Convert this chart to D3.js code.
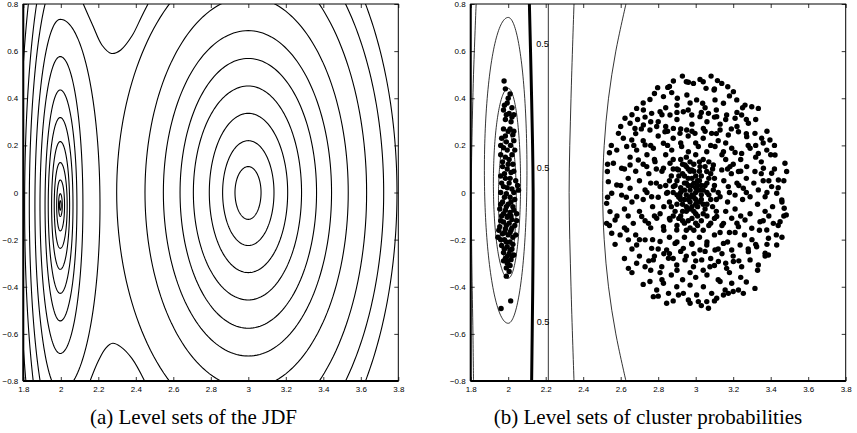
<!DOCTYPE html>
<html>
<head>
<meta charset="utf-8">
<script src="https://cdn.jsdelivr.net/npm/d3@7"></script>
<style>
  body { margin: 0; background: #fff; }
  svg { display: block; }
  .tick text { font-family: "Liberation Sans", Arial, sans-serif; font-size: 8px; fill: #000; }
  .caption { font-family: "Liberation Serif", "Times New Roman", serif; font-size: 21px; fill: #000; }
</style>
</head>
<body>
<div id="chart"></div>
<script>
// axes
const xTicks = [1.8, 2, 2.2, 2.4, 2.6, 2.8, 3, 3.2, 3.4, 3.6, 3.8];
const yTicks = [-0.8, -0.6, -0.4, -0.2, 0, 0.2, 0.4, 0.6, 0.8];
const captions = ["(a) Level sets of the JDF", "(b) Level sets of cluster probabilities"];

// (a) closed level sets: [rxLeft, rxRight, ryTop, ryBottom]
const jdfCentreA = [1.997, -0.055];
const jdfRingsA = [
  [0.004, 0.005, 0.02, 0.02],
  [0.009, 0.011, 0.05, 0.047],
  [0.019, 0.023, 0.108, 0.108],
  [0.032, 0.037, 0.182, 0.182],
  [0.046, 0.05, 0.271, 0.271],
  [0.064, 0.068, 0.373, 0.373],
  [0.081, 0.089, 0.49, 0.49],
  [0.108, 0.121, 0.632, 0.628],
  [0.135, 0.212, 0.79, 0.79]
];
const jdfCentreB = [3.0, 0.0];
const jdfRingsB = [
  [0.071, 0.068, 0.11, 0.114],
  [0.137, 0.137, 0.22, 0.225],
  [0.208, 0.21, 0.336, 0.34],
  [0.293, 0.284, 0.452, 0.456],
  [0.364, 0.364, 0.569, 0.576],
  [0.453, 0.444, 0.687, 0.694],
  [0.551, 0.533, 0.83, 0.83],
  [0.702, 0.631, 1.0, 1.0]
];
// outer level sets that merge across the saddle: left halves round A, right halves round B
const jdfOpenA = [[0.165, 0.981, 0.981], [0.19, 1.143, 1.143], [0.22, 1.347, 1.347]];
const jdfOpenB = [[0.722, 1.15, 1.15], [0.793, 1.3, 1.3]];
const saddleTop = [[2.12, 0.8], [2.17, 0.71], [2.22, 0.625], [2.27, 0.59], [2.32, 0.605], [2.38, 0.665], [2.43, 0.745], [2.465, 0.8]];
const saddleBottom = [[2.156, -0.8], [2.2, -0.715], [2.24, -0.66], [2.277, -0.64], [2.32, -0.655], [2.38, -0.705], [2.447, -0.8]];

// (b) probability level sets
const probCentre = [2.0, 0.0];
const probRings = [
  // [cy, rxLeft, rxRight, ryTop, ryBottom]
  [0.094, 0.127, 0.1, 0.649, 0.649],
  [0.039, 0.079, 0.066, 0.403, 0.403],
  [-0.023, 0.052, 0.043, 0.277, 0.277]
];
const probLineEdge = [[1.829, 0.8], [1.815, 0.5], [1.806, 0.2], [1.803, 0], [1.806, -0.3], [1.812, -0.6], [1.815, -0.8]];
const probLineHalf = [[2.113, 0.8], [2.122, 0.5], [2.13, 0.2], [2.133, 0], [2.132, -0.3], [2.128, -0.6], [2.125, -0.8]];
const probLineStraight = [[2.214, 0.8], [2.214, -0.8]];
const probLineMid = [[2.351, 0.8], [2.335, 0.4], [2.325, 0], [2.335, -0.4], [2.351, -0.8]];
const probLineArc = [[2.628, 0.8], [2.574, 0.6], [2.535, 0.4], [2.512, 0.2], [2.504, 0], [2.512, -0.2], [2.535, -0.4], [2.574, -0.6], [2.628, -0.8]];
const halfLabels = [[2.183, 0.63], [2.185, 0.104], [2.185, -0.548]];

// samples, cluster near x=2
const pointsA = [
  [1.978,0.473],[1.985,0.44],[2.01,0.418],[1.995,0.38],[2.02,0.36],[1.975,0.35],[2.005,0.335],[2.03,0.33],
  [1.985,0.31],[2.015,0.3],[1.975,0.27],[2.0,0.26],[2.025,0.245],[1.965,0.23],[1.99,0.215],[2.012,0.2],
  [1.975,0.19],[2.035,0.18],[1.96,0.16],[1.985,0.15],[2.005,0.14],[2.025,0.12],[1.97,0.11],[1.995,0.1],
  [2.015,0.085],[1.96,0.07],[1.985,0.06],[2.04,0.05],[2.005,0.04],[1.975,0.025],[2.02,0.015],[2.055,0.01],
  [1.96,0.0],[1.99,-0.005],[2.01,-0.02],[2.035,-0.03],[1.97,-0.04],[2.0,-0.05],[2.025,-0.06],[1.955,-0.07],
  [1.985,-0.075],[2.01,-0.085],[2.045,-0.09],[1.965,-0.1],[1.995,-0.105],[2.02,-0.115],[1.975,-0.125],[2.005,-0.13],
  [2.035,-0.14],[1.955,-0.145],[1.985,-0.155],[2.015,-0.16],[1.97,-0.175],[2.0,-0.18],[2.025,-0.19],[1.945,-0.19],
  [1.98,-0.2],[2.01,-0.21],[1.965,-0.225],[1.995,-0.23],[2.02,-0.24],[1.975,-0.255],[2.005,-0.26],[2.03,-0.265],
  [1.985,-0.28],[2.015,-0.285],[1.995,-0.3],[2.01,-0.31],[1.99,-0.355],[2.013,-0.46],[1.962,-0.492],
  [2.0,0.4],[1.98,0.37],[2.02,0.32],[1.99,0.33],[2.01,0.27],[1.985,0.24],[2.03,0.22],[1.995,0.18],
  [2.02,0.16],[1.97,0.13],[2.0,0.12],[2.03,0.09],[1.98,0.08],[2.01,0.06],[1.965,0.04],[1.995,0.02],
  [2.03,0.0],[1.98,-0.02],[2.015,-0.04],[1.96,-0.05],[1.99,-0.06],[2.03,-0.075],[1.975,-0.09],[2.0,-0.1],
  [2.015,-0.1],[1.96,-0.12],[1.99,-0.14],[2.02,-0.15],[1.98,-0.17],[2.01,-0.17],[2.04,-0.18],[1.96,-0.2],
  [1.99,-0.21],[2.025,-0.22],[1.98,-0.24],[2.01,-0.245],[1.995,-0.27],[2.02,-0.27],[1.975,-0.29],[2.0,-0.29],
  [1.99,-0.32],[2.005,-0.335],[2.03,0.26],[1.96,0.2],[2.045,-0.12],[1.95,-0.16],[2.05,0.03]
];
// samples, cluster near x=3
const pointsB = [
  [2.929,0.494],[3.082,0.494],[3.023,0.48],[2.881,0.473],[2.961,0.468],[2.988,0.463],[3.116,0.475],[3.139,0.463],
  [3.171,0.449],[2.797,0.445],[2.851,0.446],[2.872,0.424],[3.055,0.442],[3.098,0.435],[3.201,0.428],[2.953,0.414],
  [2.756,0.395],[2.828,0.407],[2.902,0.4],[3.005,0.393],[3.037,0.379],[3.103,0.393],[3.148,0.379],[3.219,0.393],
  [3.263,0.371],[3.299,0.364],[3.334,0.357],[2.685,0.357],[2.721,0.35],[2.765,0.336],[2.81,0.343],[2.863,0.329],
  [2.934,0.343],[2.979,0.329],[3.023,0.322],[3.068,0.336],[3.112,0.322],[3.165,0.329],[3.21,0.315],[3.245,0.329],
  [3.281,0.294],[2.623,0.315],[2.65,0.294],[2.676,0.272],[2.721,0.287],[2.756,0.265],[2.792,0.28],[2.836,0.258],
  [2.881,0.272],[2.916,0.251],[2.952,0.265],[2.996,0.251],[3.041,0.272],[3.085,0.251],[3.13,0.265],[3.174,0.244],
  [3.228,0.258],[3.272,0.237],[3.316,0.251],[3.352,0.23],[3.396,0.223],[2.588,0.251],[2.614,0.23],[2.659,0.223],
  [2.579,0.18],[2.632,0.195],[2.685,0.18],[2.73,0.202],[2.774,0.188],[2.828,0.209],[2.872,0.18],[2.925,0.195],
  [2.961,0.173],[3.014,0.195],[3.059,0.173],[3.103,0.195],[3.148,0.173],[3.192,0.188],[3.245,0.166],[3.29,0.188],
  [3.334,0.166],[3.379,0.18],[3.423,0.159],[3.476,0.124],[3.485,0.089],[2.54,0.169],[2.561,0.124],[2.529,0.089],
  [2.605,0.103],[2.65,0.117],[2.694,0.138],[2.739,0.11],[2.783,0.131],[2.828,0.103],[2.863,0.124],[2.908,0.096],
  [2.943,0.117],[2.979,0.096],[3.023,0.11],[3.059,0.089],[3.094,0.117],[3.139,0.096],[3.183,0.11],[3.228,0.089],
  [3.272,0.11],[3.316,0.089],[3.361,0.103],[3.405,0.082],[3.441,0.053],[2.534,0.046],[2.579,0.032],[2.552,-0.003],
  [2.605,-0.011],[2.65,0.018],[2.685,-0.018],[2.73,0.011],[2.765,-0.018],[2.81,0.025],[2.845,-0.003],[2.881,0.025],
  [2.916,-0.018],[3.094,0.011],[3.13,-0.018],[3.174,0.025],[3.21,-0.011],[3.254,0.018],[3.29,-0.018],[3.334,0.011],
  [3.37,-0.018],[3.405,0.025],[3.432,-0.003],[3.459,-0.032],[3.472,-0.067],[3.483,-0.095],[3.45,-0.124],[2.525,-0.046],
  [2.543,-0.081],[2.57,-0.117],[2.525,-0.131],[2.552,-0.173],[2.597,-0.18],[2.632,-0.159],[2.667,-0.131],[2.712,-0.102],
  [2.748,-0.131],[2.792,-0.109],[2.828,-0.145],[2.863,-0.117],[2.899,-0.159],[3.112,-0.102],[3.148,-0.131],[3.192,-0.109],
  [3.228,-0.145],[3.263,-0.117],[3.299,-0.152],[3.343,-0.124],[3.379,-0.159],[3.414,-0.131],[3.388,-0.194],[3.432,-0.223],
  [2.641,-0.201],[2.685,-0.223],[2.73,-0.201],[2.765,-0.237],[2.81,-0.208],[2.845,-0.244],[2.89,-0.216],[2.934,-0.237],
  [2.979,-0.216],[3.023,-0.244],[3.059,-0.223],[3.103,-0.244],[3.148,-0.216],[3.192,-0.244],[3.237,-0.223],[3.281,-0.251],
  [3.325,-0.23],[3.37,-0.258],[2.641,-0.322],[2.685,-0.3],[2.73,-0.315],[2.774,-0.286],[2.819,-0.315],[2.855,-0.279],
  [2.899,-0.308],[2.943,-0.286],[2.988,-0.315],[3.032,-0.286],[3.076,-0.315],[3.121,-0.293],[3.165,-0.322],[3.201,-0.293],
  [3.245,-0.315],[3.29,-0.286],[3.334,-0.308],[3.388,-0.265],[2.756,-0.378],[2.792,-0.414],[2.828,-0.385],[2.855,-0.428],
  [2.899,-0.4],[2.934,-0.428],[2.97,-0.393],[3.005,-0.435],[3.041,-0.4],[3.085,-0.428],[3.13,-0.378],[3.157,-0.414],
  [3.192,-0.385],[3.228,-0.414],[3.254,-0.428],[3.316,-0.407],[2.774,-0.442],[2.845,-0.47],[2.908,-0.435],[2.961,-0.456],
  [3.014,-0.463],[3.059,-0.463],[3.068,-0.491],[3.112,-0.449],[3.148,-0.435],[3.174,-0.428],
  [2.9,0.05],[2.92,0.02],[2.94,0.07],[2.96,0.03],[2.98,0.06],[3.0,0.02],[3.02,0.05],[3.04,0.01],
  [3.06,0.04],[2.91,-0.02],[2.93,-0.05],[2.95,-0.01],[2.97,-0.04],[2.99,-0.02],[3.01,-0.06],[3.03,-0.03],
  [3.05,-0.07],[3.07,-0.01],[2.88,0.0],[2.86,-0.04],[2.89,-0.08],[2.92,-0.1],[2.95,-0.08],[2.98,-0.11],
  [3.0,-0.09],[3.03,-0.12],[3.06,-0.1],[3.09,-0.06],[3.1,0.03],[2.96,0.1],[2.99,0.12],[3.02,0.09],
  [2.93,0.12],[2.9,0.1],[3.05,0.11],[3.08,0.08],[2.87,0.07],[2.84,0.03],[2.83,-0.06],[2.86,-0.11],
  [2.9,-0.14],[2.94,-0.13],[2.97,-0.15],[3.01,-0.14],[3.04,-0.16],[3.08,-0.13],[3.11,-0.08],[3.12,0.0],
  [3.1,0.06],[2.95,0.15],[3.0,0.16],[3.04,0.14],[2.88,0.14],[2.98,-0.01],[2.96,-0.03],[3.0,0.0],
  [2.97,0.01],[3.01,0.03],[2.94,-0.03],[2.99,0.04],[2.92,0.0],[3.03,-0.01],[2.95,0.04],[2.98,-0.06],
  [3.02,-0.04],[2.9,-0.05],[3.06,0.0],
  [2.7,0.05],[2.72,-0.03],[2.75,0.08],[2.77,-0.06],[2.79,0.04],[2.8,-0.02],[2.82,0.09],[2.81,-0.09],
  [2.78,0.14],[2.76,-0.15],[2.74,0.16],[2.7,-0.08],[2.68,0.09],[2.66,-0.04],[2.64,0.06],[2.62,-0.07],
  [2.6,0.03],[2.58,-0.1],[3.15,0.05],[3.17,-0.04],[3.19,0.08],[3.21,-0.07],[3.23,0.03],[3.25,-0.03],
  [3.27,0.06],[3.29,-0.09],[3.31,0.04],[3.33,-0.05],[3.35,0.08],[3.37,-0.08],[3.39,0.05],[3.41,-0.06],
  [3.44,0.02],[3.46,-0.04],[3.16,0.14],[3.2,0.12],[3.24,0.14],[3.14,-0.14],[3.18,-0.17],[3.22,-0.13],
  [3.26,-0.18],[2.85,0.2],[2.88,0.23],[2.92,0.21],[2.96,0.24],[3.0,0.21],[3.04,0.23],[3.08,0.2],
  [3.12,0.22],[2.86,-0.19],[2.9,-0.21],[2.94,-0.19],[2.98,-0.22],[3.02,-0.19],[3.06,-0.21],[3.1,-0.18],
  [2.8,0.3],[2.84,0.28],[2.9,0.31],[2.98,0.29],[3.06,0.3],[3.13,0.29],[3.19,0.27],[2.78,-0.27],
  [2.83,-0.26],[2.88,-0.28],[2.95,-0.27],[3.0,-0.29],[3.08,-0.28],[3.14,-0.26],[3.2,-0.27],[2.72,0.22],
  [2.68,0.25],[2.65,0.15],[2.7,-0.2],[2.66,-0.24],[2.62,-0.15],[3.28,0.2],[3.32,0.15],[3.36,0.21],
  [3.3,-0.2],[3.34,-0.16],[3.38,-0.22],[2.9,0.37],[2.97,0.38],[3.05,0.36],[3.11,0.35],[2.84,0.36],
  [2.87,-0.35],[2.93,-0.37],[3.0,-0.36],[3.06,-0.35],[3.12,-0.37],[3.18,-0.34],[2.81,-0.34],[2.76,-0.33],
  [3.24,-0.36],[3.27,0.31],[3.22,0.34],[2.73,0.32],[2.69,0.31],[3.42,0.1],[3.44,-0.14],[3.46,-0.19],[3.4,0.16],
  [2.55,0.2],[2.57,-0.22],[2.6,0.28],[2.62,-0.28],[2.66,0.33],[2.66,-0.34],[2.72,0.38],[2.72,-0.39],
  [2.78,0.42],[2.8,-0.44],[2.86,0.45],[2.88,-0.46],[2.95,0.47],[2.97,-0.47],[3.04,0.47],[3.03,-0.48],
  [3.1,0.44],[3.1,-0.46],[3.18,0.41],[3.2,-0.42],[3.25,0.36],[3.27,-0.38],[3.32,0.31],[3.33,-0.33],
  [3.38,0.26],[3.37,-0.27],[3.42,0.2],[3.43,-0.18],[3.47,0.05],[3.47,-0.1],[2.53,0.12],[2.53,-0.02],[2.54,-0.14],
  [2.62,0.1],[2.63,-0.02],[2.64,-0.1],[2.67,0.2],[2.68,-0.18],[2.71,0.27],[2.7,-0.27],[2.76,0.3],
  [2.75,-0.29],[2.82,0.33],[2.82,-0.37],[2.9,0.34],[2.9,-0.33],[2.96,0.35],[2.97,-0.34],[3.03,0.34],
  [3.04,-0.33],[3.1,0.32],[3.1,-0.31],[3.16,0.31],[3.16,-0.3],[3.22,0.28],[3.23,-0.29],[3.27,0.25],
  [3.28,-0.24],[3.32,0.2],[3.32,-0.22],[3.35,0.13],[3.36,-0.12],[3.38,0.0],[3.36,0.05],[3.39,-0.1],
  [2.72,0.12],[2.73,-0.12],[2.76,0.2],[2.77,-0.2],[2.8,0.24],[2.8,-0.24],[2.85,0.26],[2.86,-0.26],
  [2.92,0.27],[2.92,-0.25],[2.98,0.26],[2.99,-0.26],[3.05,0.26],[3.05,-0.25],[3.11,0.25],[3.12,-0.24],
  [3.16,0.21],[3.17,-0.21],[3.21,0.17],[3.21,-0.17],[3.24,0.09],[3.24,-0.1],[3.27,0.0],[3.22,0.04],
  [2.74,0.0],[2.76,0.04],[2.78,-0.1],[2.79,0.1],[2.84,0.16],[2.83,-0.16],[3.14,0.16],[3.13,-0.17],
  [3.18,0.0],[3.16,-0.08],[3.17,0.1],
  [2.93,0.08],[2.95,0.11],[2.97,0.09],[3.0,0.07],[3.03,0.07],[2.91,0.07],[2.89,0.03],[2.9,-0.01],
  [2.92,-0.03],[2.94,0.01],[2.96,0.06],[2.98,0.03],[3.0,-0.03],[3.02,0.01],[3.04,-0.05],[3.05,0.03],
  [3.07,0.06],[3.08,-0.03],[3.06,-0.05],[2.97,-0.07],[2.95,-0.06],[2.93,-0.08],[2.99,-0.08],[3.01,-0.1],
  [3.04,-0.09],[2.96,-0.12],[2.93,-0.12],[2.91,-0.11],[2.88,-0.1],[2.87,-0.06],[2.85,0.0],[2.86,0.05],
  [2.88,0.1],[2.92,0.14],[2.97,0.13],[3.02,0.13],[3.07,0.13],[3.09,0.1],[3.11,-0.03],[3.1,-0.11],
  [3.07,-0.14],[3.0,-0.13],[2.99,-0.16],[2.95,-0.16],[2.99,0.09],[3.01,0.05],[2.94,0.04],[2.97,-0.02],
  [3.03,0.03],[3.0,-0.05]
];

const width = 857, height = 433;
const plotTop = 4, plotBottom = 381;
const panels = [{ left: 23.3, right: 398.3, capX: 193.5 }, { left: 470.7, right: 845.7, capX: 648 }];

const svg = d3.select("#chart").append("svg").attr("width", width).attr("height", height);

const fmt = d => (d === 0 ? "0" : String(+d.toFixed(1)).replace("-", "\u2212"));

// egg-shaped ring: different radius each side of the centre
function ringPoints(cx, cy, rxL, rxR, ryT, ryB, from, to) {
  const pts = [];
  const n = 180;
  for (let i = 0; i <= n; i++) {
    const t = from + (to - from) * i / n;
    const c = Math.cos(t), s = Math.sin(t);
    pts.push([cx + c * (c < 0 ? rxL : rxR), cy + s * (s > 0 ? ryT : ryB)]);
  }
  return pts;
}

function makePanel(p, i) {
  const x = d3.scaleLinear().domain([1.8, 3.8]).range([p.left, p.right]);
  const y = d3.scaleLinear().domain([-0.8, 0.8]).range([plotBottom, plotTop]);
  const g = svg.append("g");

  g.append("clipPath").attr("id", "clip" + i)
    .append("rect").attr("x", p.left).attr("y", plotTop)
    .attr("width", p.right - p.left).attr("height", plotBottom - plotTop);

  const plot = g.append("g").attr("clip-path", `url(#clip${i})`);
  const line = d3.line().x(d => x(d[0])).y(d => y(d[1]));
  const smooth = d3.line().x(d => x(d[0])).y(d => y(d[1])).curve(d3.curveCatmullRom);

  // axes with inward ticks on all four sides
  const ax = [
    [d3.axisBottom(x).tickValues(xTicks).tickFormat(fmt), `translate(0,${plotBottom})`],
    [d3.axisTop(x).tickValues(xTicks).tickFormat(""), `translate(0,${plotTop})`],
    [d3.axisLeft(y).tickValues(yTicks).tickFormat(fmt), `translate(${p.left},0)`],
    [d3.axisRight(y).tickValues(yTicks).tickFormat(""), `translate(${p.right},0)`]
  ];
  ax.forEach(([a, tr]) => {
    const ag = g.append("g").attr("transform", tr)
      .call(a.tickSizeInner(-4).tickSizeOuter(0).tickPadding(5));
    ag.select(".domain").remove();
    ag.selectAll(".tick line").attr("stroke", "#000").attr("stroke-width", 0.8);
  });

  // frame
  g.append("rect").attr("x", p.left).attr("y", plotTop)
    .attr("width", p.right - p.left).attr("height", plotBottom - plotTop)
    .attr("fill", "none").attr("stroke", "#000").attr("stroke-width", 1);
  g.append("line").attr("x1", p.left).attr("x2", p.left).attr("y1", plotTop).attr("y2", plotBottom)
    .attr("stroke", "#000").attr("stroke-width", 2);
  g.append("line").attr("x1", p.left).attr("x2", p.right).attr("y1", plotBottom).attr("y2", plotBottom)
    .attr("stroke", "#000").attr("stroke-width", 2);

  g.append("text").attr("class", "caption").attr("x", p.capX).attr("y", 424)
    .attr("text-anchor", "middle").text(captions[i]);

  return { x, y, plot, line, smooth };
}

// (a)
const A = makePanel(panels[0], 0);
const full = [0, 2 * Math.PI];
jdfRingsA.forEach(r => {
  A.plot.append("path").attr("d", A.line(ringPoints(jdfCentreA[0], jdfCentreA[1], r[0], r[1], r[2], r[3], ...full)) + "Z")
    .attr("fill", "none").attr("stroke", "#000").attr("stroke-width", 1.1);
});
jdfRingsB.forEach(r => {
  A.plot.append("path").attr("d", A.line(ringPoints(jdfCentreB[0], jdfCentreB[1], r[0], r[1], r[2], r[3], ...full)) + "Z")
    .attr("fill", "none").attr("stroke", "#000").attr("stroke-width", 1.1);
});
jdfOpenA.forEach(r => {
  A.plot.append("path").attr("d", A.line(ringPoints(jdfCentreA[0], jdfCentreA[1], r[0], r[0], r[1], r[2], Math.PI / 2, 1.5 * Math.PI)))
    .attr("fill", "none").attr("stroke", "#000").attr("stroke-width", 1.1);
});
jdfOpenB.forEach(r => {
  A.plot.append("path").attr("d", A.line(ringPoints(jdfCentreB[0], jdfCentreB[1], r[0], r[0], r[1], r[2], -Math.PI / 2, Math.PI / 2)))
    .attr("fill", "none").attr("stroke", "#000").attr("stroke-width", 1.1);
});
[saddleTop, saddleBottom].forEach(c => {
  A.plot.append("path").attr("d", A.smooth(c))
    .attr("fill", "none").attr("stroke", "#000").attr("stroke-width", 1.1);
});

// (b)
const B = makePanel(panels[1], 1);
probRings.forEach(r => {
  B.plot.append("path").attr("d", B.line(ringPoints(probCentre[0], r[0], r[1], r[2], r[3], r[4], ...full)) + "Z")
    .attr("fill", "none").attr("stroke", "#000").attr("stroke-width", 0.8);
});
[probLineEdge, probLineStraight, probLineMid, probLineArc].forEach(c => {
  B.plot.append("path").attr("d", B.smooth(c))
    .attr("fill", "none").attr("stroke", "#000").attr("stroke-width", 0.8);
});
B.plot.append("path").attr("d", B.smooth(probLineHalf))
  .attr("fill", "none").attr("stroke", "#000").attr("stroke-width", 3);

B.plot.append("g").selectAll("circle").data(pointsA.concat(pointsB)).join("circle")
  .attr("cx", d => B.x(d[0])).attr("cy", d => B.y(d[1])).attr("r", 2.7).attr("fill", "#000");

B.plot.append("g").selectAll("text").data(halfLabels).join("text")
  .attr("x", d => B.x(d[0])).attr("y", d => B.y(d[1]))
  .attr("dy", "0.35em").attr("text-anchor", "middle")
  .attr("font-family", "Liberation Sans, Arial, sans-serif").attr("font-size", 9)
  .text("0.5");
</script>
</body>
</html>
